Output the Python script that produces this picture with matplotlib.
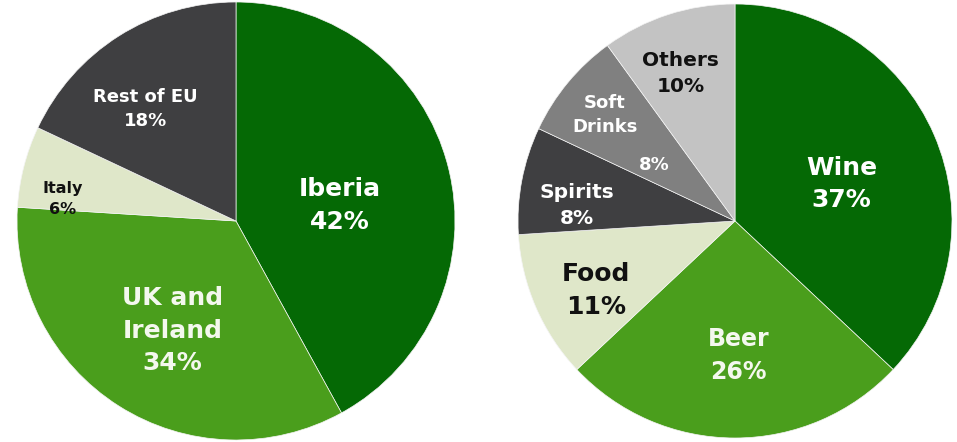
import matplotlib
matplotlib.use("Agg")
import matplotlib.pyplot as plt

# Data
region_labels = ["Iberia", "UK and\nIreland", "Italy", "Rest of EU"]
region_values = [42, 34, 6, 18]
category_labels = ["Wine", "Beer", "Food", "Spirits", "Soft\nDrinks", "Others"]
category_values = [37, 26, 11, 8, 8, 10]

# Styles
DKGREEN = "#056905"
MDGREEN = "#4a9e1c"
LTGREEN = "#dfe7c9"
DKGREY = "#3f3f41"
GREY = "#808080"
LTGREY = "#c3c3c3"

region_colors = [DKGREEN, MDGREEN, LTGREEN, DKGREY]
category_colors = [DKGREEN, MDGREEN, LTGREEN, DKGREY, GREY, LTGREY]

plt.rcParams['font.family'] = ['DejaVu Sans']

fig = plt.figure(figsize=(9.57, 4.42), dpi=100)
ax1 = fig.add_axes([17/957, 2/442, 438/957, 438/442])
ax2 = fig.add_axes([518/957, 4/442, 434/957, 434/442])

for ax, vals, cols in ((ax1, region_values, region_colors),
                       (ax2, category_values, category_colors)):
    ax.pie(vals, colors=cols, startangle=90, counterclock=False,
           radius=1, center=(0, 0),
           wedgeprops=dict(edgecolor="#f4f4f4", linewidth=0.5))
    ax.set_xlim(-1, 1)
    ax.set_ylim(-1, 1)
    ax.set_aspect("equal")
    ax.axis("off")

LS = 1.45

# label layout: (x, y, size, color)
left_layout = [
    (0.475, 0.07, 18, "white"),
    (-0.29, -0.50, 18, "#f4f8ee"),
    (-0.79, 0.10, 11.5, "#111111"),
    (-0.415, 0.51, 13, "white"),
]
for lab, val, (x, y, s, c) in zip(region_labels, region_values, left_layout):
    ax1.text(x, y, f"{lab}\n{val}%", ha="center", va="center", fontsize=s,
             color=c, fontweight="bold", linespacing=LS)

right_layout = [
    (0.49, 0.17, 18, "white"),
    (0.015, -0.62, 17, "#f4f8ee"),
    (-0.64, -0.32, 18, "#111111"),
    (-0.73, 0.07, 14.5, "white"),
    (-0.60, 0.49, 13, "white"),
    (-0.25, 0.68, 14.5, "#111111"),
]
for lab, val, (x, y, s, c) in zip(category_labels, category_values, right_layout):
    if lab.startswith("Soft"):
        ax2.text(x, y, lab, ha="center", va="center", fontsize=s,
                 color=c, fontweight="bold", linespacing=LS)
        ax2.text(-0.37, 0.26, f"{val}%", ha="center", va="center", fontsize=s,
                 color=c, fontweight="bold")
    else:
        ax2.text(x, y, f"{lab}\n{val}%", ha="center", va="center", fontsize=s,
                 color=c, fontweight="bold", linespacing=LS)

fig.savefig("out.png", dpi=100)
